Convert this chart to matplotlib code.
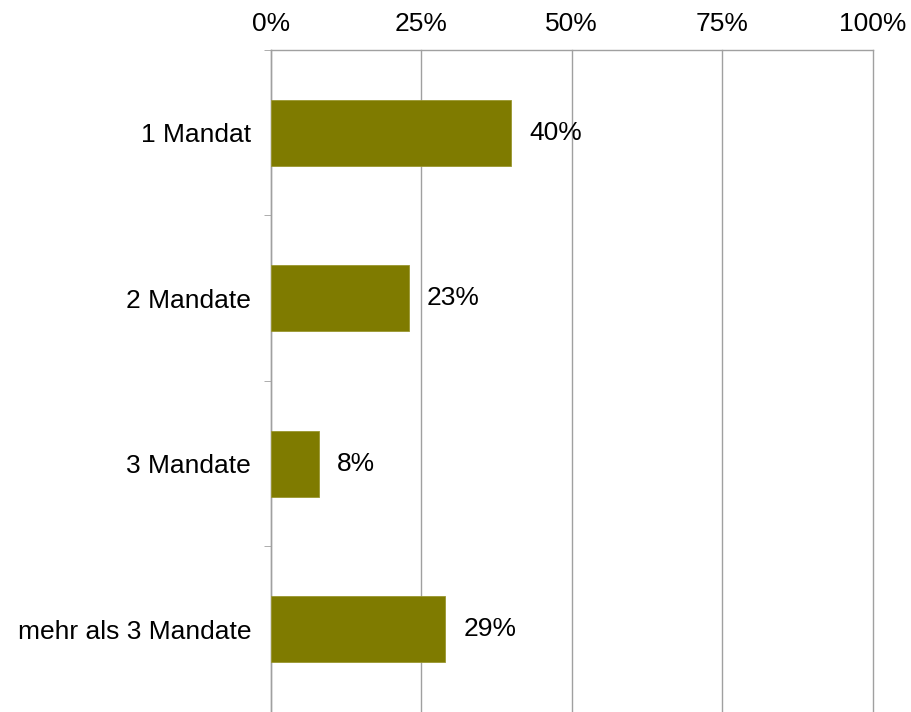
import matplotlib
matplotlib.use("Agg")
import matplotlib.pyplot as plt
from matplotlib.ticker import FixedLocator, PercentFormatter

categories = ["1 Mandat", "2 Mandate", "3 Mandate", "mehr als 3 Mandate"]
values = [40, 23, 8, 29]
x_ticks = [0, 25, 50, 75, 100]

plt.rcParams["font.family"] = ["Liberation Sans", "DejaVu Sans"]

fig = plt.figure(figsize=(9.11, 7.12), dpi=100)
ax = fig.add_axes([0.297, 0.0, 0.661, 0.9298])

grey = "#a0a0a0"
n = len(categories)
pos = list(range(n))
ax.barh(pos, values, height=0.4, color="#7f7b00", edgecolor="#9a9630", linewidth=0.6, zorder=3)

ax.set_xlim(0, 100)
ax.set_ylim(n - 0.5, -0.5)

ax.xaxis.tick_top()
ax.set_xticks(x_ticks)
ax.xaxis.set_major_formatter(PercentFormatter(decimals=0))
ax.tick_params(axis="x", which="major", length=0, labelsize=19, pad=10)
ax.xaxis.set_minor_locator(FixedLocator([x_ticks[0], x_ticks[-1]]))
ax.tick_params(axis="x", which="minor", length=4, color=grey, top=True, bottom=False)
for xv in x_ticks:
    ax.axvline(xv, color=grey, linewidth=1.0, zorder=0, clip_on=False)

ax.set_yticks(pos)
ax.set_yticklabels(categories)
ax.tick_params(axis="y", which="major", length=0, labelsize=19, pad=14)
ax.yaxis.set_minor_locator(FixedLocator([i - 0.5 for i in range(n + 1)]))
ax.tick_params(axis="y", which="minor", length=5, color=grey)

for side in ["right", "bottom"]:
    ax.spines[side].set_visible(False)
for side in ["left", "top"]:
    ax.spines[side].set_color(grey)
    ax.spines[side].set_linewidth(1.0)

for p, v in zip(pos, values):
    ax.annotate(f"{v}%", xy=(v, p), xytext=(13, 0), textcoords="offset points",
                va="center", ha="left", fontsize=19)

fig.savefig("out.png", dpi=100)
